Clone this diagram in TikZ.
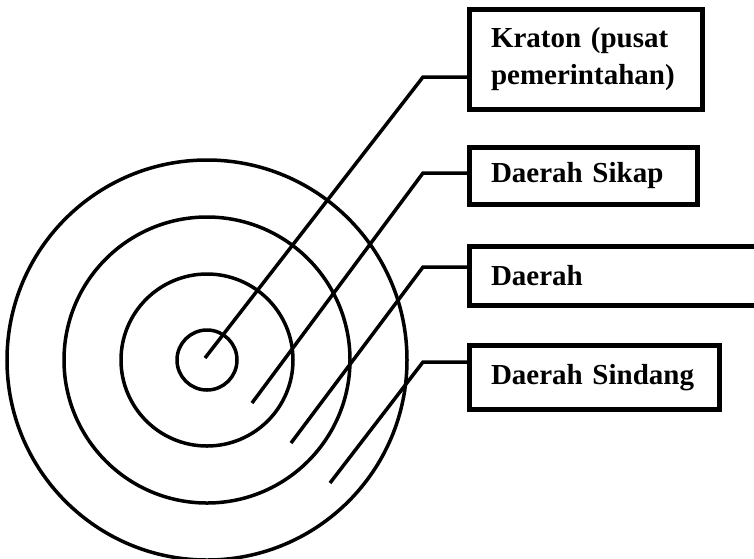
\documentclass[tikz,border=0pt]{standalone}
\usepackage{fontspec}
\setmainfont{Liberation Serif}
\usetikzlibrary{positioning}

\tikzset{
  ring/.style={line width=3.5pt},
  leader/.style={line width=3.5pt},
  labelbox/.style={draw, line width=5pt, outer sep=0pt, inner xsep=22pt, inner ysep=0pt,
    anchor=west, align=left, font=\bfseries\fontsize{29}{37}\selectfont}
}

\begin{document}
\begin{tikzpicture}[x=1pt,y=-1pt]
\clip (0,0) rectangle (754,558);
\fill[white] (0,0) rectangle (754,558);

% concentric zones
\coordinate (ctr) at (207,360);
\foreach \r in {30,86,143,200}
  \draw[ring] (ctr) circle[radius=\r];

% label boxes
\node[labelbox, text width=189.5pt, minimum height=100pt] (kraton) at (469,59.5) {Kraton (pusat\\pemerintahan)};
\node[labelbox, text width=184pt, minimum height=57pt] (sikap) at (469,176) {Daerah Sikap};
\node[labelbox, text width=300pt, minimum height=59pt] (daerah) at (469,276) {Daerah};
\node[labelbox, text width=206pt, minimum height=64pt] (sindang) at (469,377.5) {Daerah Sindang};

% leaders
\coordinate (e1) at (205,358);
\coordinate (k1) at (423,77);
\coordinate (e2) at (252,403);
\coordinate (k2) at (423,173);
\coordinate (e3) at (291,443);
\coordinate (k3) at (423,267);
\coordinate (e4) at (330,483);
\coordinate (k4) at (423,362);

\draw[leader] (e1) -- (k1) -- (k1 -| kraton.west);
\draw[leader] (e2) -- (k2) -- (k2 -| sikap.west);
\draw[leader] (e3) -- (k3) -- (k3 -| daerah.west);
\draw[leader] (e4) -- (k4) -- (k4 -| sindang.west);
\end{tikzpicture}
\end{document}
